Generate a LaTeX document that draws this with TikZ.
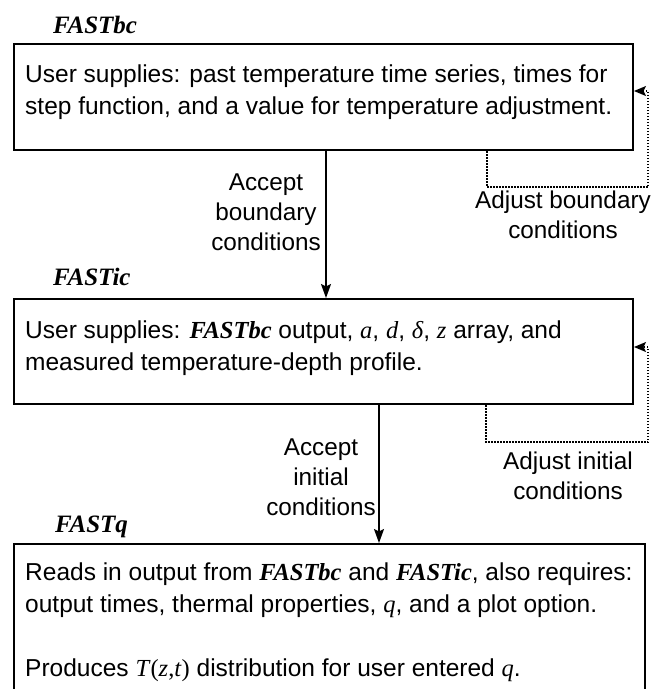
\documentclass[tikz,border=0pt]{standalone}
\usepackage{fontspec}
\setmainfont{Liberation Sans}
\newfontfamily\tms{Liberation Serif}
\usetikzlibrary{arrows.meta,calc}
\newcommand{\fbi}[1]{{\tms\bfseries\itshape #1}}
\newcommand{\mi}[1]{{\tms\itshape #1}}
\begin{document}
\begin{tikzpicture}[x=1pt,y=-1pt,
  box/.style={draw, line width=2pt, inner sep=0pt, anchor=north west},
  txt/.style={anchor=base west, inner sep=0pt, font=\fontsize{24.5}{32}\selectfont},
  lbl/.style={align=center, inner sep=0pt, font=\fontsize{24.3}{30}\selectfont},
  ttl/.style={anchor=base west, inner sep=0pt, font=\fontsize{25}{30}\selectfont\tms\bfseries\itshape},
  acc/.style={line width=1.6pt, -{Stealth[length=14pt,width=10pt,inset=2.5pt]}},
  adj/.style={line width=1.5pt, dash pattern=on 1.5pt off 1.5pt, -{Stealth[length=12pt,width=10pt,inset=2.5pt]}}]
\useasboundingbox (0,0) rectangle (654,689);
\clip (0,0) rectangle (654,689);
\fill[white] (0,0) rectangle (654,689);

% titles
\node[ttl] (t1) at (53,33) {FASTbc};
\node[ttl] (t2) at (53,285) {FASTic};
\node[ttl] (t3) at (55,532) {FASTq};

% boxes
\node[box, minimum width=619pt, minimum height=106pt] (b1) at (13,43) {};
\node[box, minimum width=619pt, minimum height=105pt] (b2) at (13,298) {};
\node[box, minimum width=631pt, minimum height=170pt] (b3) at (13,543) {};

% box texts
\node[txt] (b1l1) at (25,82) {User supplies: past temperature time series, times for};
\node[txt] (b1l2) at (25,114) {step function, and a value for temperature adjustment.};
\node[txt] (b2l1) at (25,338) {User supplies: \fbi{FASTbc} output, \mi{a}, \mi{d}, \mi{δ}, \mi{z} array, and};
\node[txt] (b2l2) at (25,370) {measured temperature-depth profile.};
\node[txt] (b3l1) at (25,580) {Reads in output from \fbi{FASTbc} and \fbi{FASTic}, also requires:};
\node[txt] (b3l2) at (25,612) {output times, thermal properties, \mi{q}, and a plot option.};
\node[txt] (b3l3) at (25,676) {Produces {\tms\textit{T}(\textit{z},\textit{t})} distribution for user entered \mi{q}.};

% accept arrows
\coordinate (a1x) at (326,0);
\coordinate (a2x) at (379,0);
\draw[acc] (b1.south -| a1x) -- (b2.north -| a1x);
\draw[acc] (b2.south -| a2x) -- (b3.north -| a2x);
\node[lbl] (l1) at (266,212) {Accept\\boundary\\conditions};
\node[lbl] (l2) at (321,477) {Accept\\initial\\conditions};

% adjust loops
\coordinate (k1) at (487,187);
\coordinate (k2) at (648,187);
\coordinate (k3) at (648,91);
\draw[adj] (b1.south -| k1) -- (k1) -- (k2) -- (k3) -- (b1.east |- k3);
\coordinate (m1) at (486,442);
\coordinate (m2) at (648,442);
\coordinate (m3) at (648,347);
\draw[adj] (b2.south -| m1) -- (m1) -- (m2) -- (m3) -- (b2.east |- m3);
\node[lbl] (l3) at (563,215) {Adjust boundary\\conditions};
\node[lbl] (l4) at (568,476) {Adjust initial\\conditions};
\end{tikzpicture}
\end{document}
